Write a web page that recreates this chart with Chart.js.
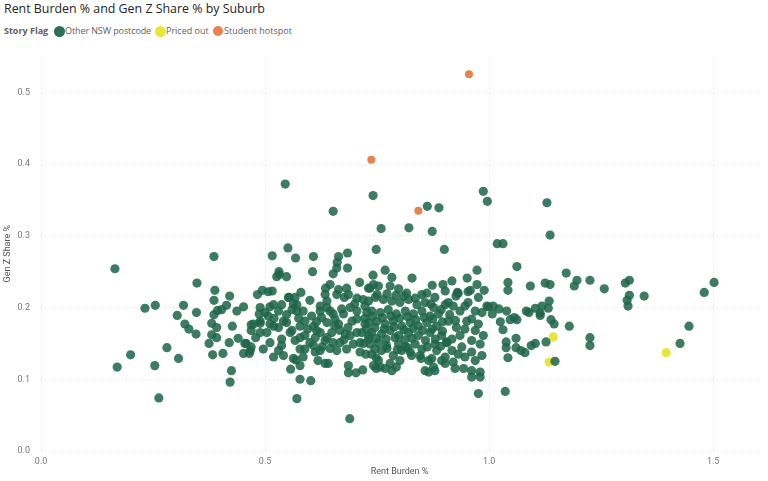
<!DOCTYPE html>
<html lang="en">
<head>
<meta charset="UTF-8">
<title>Rent Burden % and Gen Z Share % by Suburb</title>
<script src="https://cdn.jsdelivr.net/npm/chart.js@4.4.1/dist/chart.umd.min.js"></script>
<style>
  body { margin: 0; background: #fff; font-family: "Open Sans", "Noto Sans", sans-serif; }
  #wrap { position: relative; width: 768px; height: 481px; overflow: hidden; }
  .title { position: absolute; left: 4px; top: 0px; font-size: 12.4px; color: #252423; white-space: nowrap; }
  .legend { position: absolute; top: 24px; left: 4px; font-size: 9px; color: #605e5c; white-space: nowrap; height: 14px; }
  .legend span { position: absolute; top: 0; line-height: 14px; }
  .legend b { color: #605e5c; }
  .dot { display: inline-block; border-radius: 50%; position: absolute; }
  #chartBox { position: absolute; left: 0; top: 40px; width: 768px; height: 441px; }
</style>
</head>
<body>
<div id="wrap">
  <div class="title">Rent Burden % and Gen Z Share % by Suburb</div>
  <div class="legend">
    <span style="left:0"><b>Story Flag</b></span>
    <i class="dot" style="left:50px;top:1.5px;width:11px;height:11px;background:#2a6e54"></i>
    <span style="left:61px;letter-spacing:-0.1px">Other NSW postcode</span>
    <i class="dot" style="left:151px;top:1.5px;width:11px;height:11px;background:#e6e63c"></i>
    <span style="left:162px">Priced out</span>
    <i class="dot" style="left:209px;top:2px;width:10px;height:10px;background:#e8834f"></i>
    <span style="left:220px">Student hotspot</span>
  </div>
  <div id="chartBox"><canvas id="chart"></canvas></div>
</div>
<script>
// Other NSW postcode: rent burden (x) and Gen Z share (y)
const otherX = [
  1.129,1.136,1.018,1.031,1.062,1.042,1.042,1.092,1.125,1.136,1.172,1.196,1.190,1.225,1.257,1.304,1.313,1.313,1.308,1.310,
  1.346,1.502,1.480,1.446,1.426,1.147,1.225,1.225,1.179,1.134,1.132,1.114,1.114,1.118,1.103,1.083,1.089,1.138,1.145,1.009,
  1.022,1.007,1.025,1.047,1.056,1.062,1.031,1.060,1.038,1.038,1.060,1.071,1.080,1.094,1.103,1.127,1.042,1.036,
  0.987,0.996,0.741,0.862,0.888,0.652,0.545,0.759,0.821,0.873,0.748,0.900,0.973,0.768,0.828,0.741,0.783,0.951,0.917,0.897,
  0.873,0.973,0.989,0.958,0.929,0.926,
  0.386,0.165,0.516,0.551,0.348,0.388,0.386,0.421,0.414,0.403,0.394,0.386,0.381,0.392,0.381,0.392,0.375,0.383,0.406,0.420,
  0.427,0.437,0.452,0.440,0.455,0.469,0.465,0.452,0.425,0.422,0.263,0.170,0.200,0.254,0.281,0.307,0.232,0.255,0.304,0.318,
  0.321,0.330,0.346,0.347,0.483,0.494,0.507,0.516,0.532,0.526,0.548,0.496,0.519,0.489,0.487,0.489,0.469,0.469,0.479,0.554,
  0.568,0.608,0.606,0.664,0.684,0.661,0.660,0.684,0.652,0.531,0.580,0.635,0.645,0.711,0.731,0.458,0.467,0.557,0.569,0.578,
  0.578,0.602,0.571,0.618,0.634,0.641,0.660,0.686,0.686,0.703,0.718,0.748,0.748,0.689,
  0.552,0.567,0.660,0.682,0.686,0.705,0.719,0.638,0.507,0.519,0.537,0.530,0.571,0.585,0.604,0.623,0.638,0.652,0.671,0.690,
  0.705,0.723,0.474,0.489,0.511,0.530,0.548,0.560,0.578,0.589,0.608,0.623,0.638,0.649,0.664,0.679,0.694,0.705,0.723,0.731,
  0.537,0.567,0.600,0.634,0.667,0.697,0.530,0.541,0.578,0.612,0.627,0.682,0.712,0.585,
  0.902,0.931,0.953,0.953,0.976,0.734,0.753,0.779,0.798,0.816,0.850,0.861,0.879,0.902,0.920,0.935,0.946,0.969,0.984,0.961,
  0.976,0.946,0.969,0.987,0.980,0.961,0.939,0.931,0.946,0.969,0.961,0.980,0.943,0.920,0.902,0.883,0.865,0.857,0.876,0.902,
  0.731,0.746,0.764,0.783,0.801,0.820,0.839,0.857,0.876,0.738,0.757,0.775,0.793,0.813,0.831,0.850,0.868,0.887,0.731,0.749,
  0.768,0.786,0.805,0.824,0.842,0.861,0.883,0.909,0.927,0.738,0.760,0.779,0.798,0.820,0.842,0.868,0.894,0.917,0.734,0.753,
  0.771,0.798,0.813,0.835,0.850,0.879,0.738,0.760,0.786,0.805,0.827,0.872,0.753,0.801,0.846,
  0.757,0.779,0.793,0.783,0.742,0.865,0.879,0.924,0.961,0.980,0.984,0.935,0.976,1.039,0.995,
  0.740,0.762,0.781,0.800,0.818,0.836,0.855,0.874,0.896,0.745,0.766,0.788,0.810,0.830,0.852,0.873,0.896,0.748,0.770,0.790,
  0.812,0.828,0.858,0.880,0.905,0.745,0.772,0.795,0.818,0.862,0.892,0.750,0.772,0.792,0.810,0.835,0.870,0.893,0.912,0.925,
  0.727,0.723,0.726,0.720,0.725,
  0.563,0.634,0.664,0.677,0.511,0.500,0.541,0.489,0.519,0.571,0.589,0.623,0.645,0.656,0.675,0.705,0.504,0.556,0.578,0.615,
  0.638,0.667,0.690,0.716,0.511,0.537,0.589,0.608,0.623,0.652,0.712,0.731,0.563,0.600,0.615,0.595,0.575,0.655,0.685,0.700,
  0.626,0.548,0.520,0.560,0.612,0.645,0.676,
  0.742,0.909,0.998,0.950,0.906,0.917,0.894,0.961,0.824,0.848,0.768
];
const otherY = [
  0.346,0.301,0.289,0.289,0.257,0.235,0.224,0.230,0.234,0.232,0.248,0.238,0.230,0.238,0.226,0.234,0.238,0.217,0.210,0.202,
  0.216,0.235,0.221,0.174,0.150,0.125,0.158,0.147,0.174,0.209,0.199,0.192,0.189,0.202,0.199,0.195,0.193,0.183,0.177,0.202,
  0.198,0.191,0.180,0.183,0.186,0.183,0.169,0.157,0.152,0.144,0.144,0.140,0.137,0.147,0.150,0.152,0.130,0.083,
  0.362,0.348,0.356,0.341,0.339,0.334,0.372,0.310,0.311,0.306,0.281,0.281,0.252,0.252,0.241,0.245,0.242,0.241,0.237,0.232,
  0.231,0.232,0.224,0.224,0.221,0.216,
  0.271,0.254,0.272,0.283,0.234,0.224,0.210,0.216,0.203,0.197,0.196,0.190,0.178,0.172,0.162,0.158,0.150,0.134,0.136,0.151,
  0.174,0.195,0.201,0.157,0.150,0.145,0.136,0.136,0.112,0.096,0.074,0.117,0.134,0.119,0.144,0.129,0.199,0.203,0.189,0.203,
  0.177,0.170,0.163,0.193,0.218,0.224,0.222,0.223,0.246,0.243,0.243,0.142,0.131,0.200,0.191,0.178,0.176,0.168,0.158,0.214,
  0.269,0.271,0.250,0.271,0.276,0.263,0.255,0.255,0.247,0.250,0.221,0.227,0.232,0.235,0.227,0.150,0.140,0.114,0.127,0.119,
  0.100,0.098,0.073,0.126,0.122,0.122,0.140,0.119,0.109,0.109,0.113,0.130,0.115,0.045,
  0.214,0.214,0.218,0.227,0.218,0.213,0.211,0.209,0.188,0.204,0.204,0.195,0.204,0.195,0.188,0.195,0.200,0.191,0.198,0.200,
  0.195,0.202,0.177,0.165,0.177,0.172,0.179,0.168,0.174,0.161,0.174,0.165,0.179,0.165,0.177,0.163,0.181,0.165,0.177,0.161,
  0.156,0.154,0.151,0.154,0.151,0.149,0.140,0.133,0.142,0.138,0.145,0.142,0.138,0.131,
  0.223,0.220,0.222,0.207,0.214,0.227,0.230,0.230,0.226,0.220,0.218,0.220,0.214,0.204,0.202,0.195,0.202,0.195,0.193,0.184,
  0.177,0.170,0.168,0.161,0.149,0.154,0.145,0.135,0.131,0.126,0.112,0.110,0.115,0.124,0.131,0.140,0.126,0.112,0.117,0.122,
  0.209,0.214,0.211,0.209,0.207,0.211,0.204,0.207,0.200,0.195,0.193,0.197,0.191,0.195,0.191,0.195,0.188,0.191,0.179,0.181,
  0.177,0.181,0.174,0.179,0.174,0.179,0.174,0.181,0.172,0.165,0.163,0.168,0.161,0.165,0.161,0.165,0.161,0.156,0.149,0.151,
  0.147,0.149,0.145,0.149,0.142,0.149,0.135,0.140,0.133,0.140,0.133,0.129,0.126,0.126,0.133,
  0.117,0.122,0.117,0.112,0.119,0.110,0.112,0.115,0.103,0.103,0.133,0.161,0.080,0.195,0.202,
  0.187,0.186,0.188,0.185,0.187,0.183,0.186,0.184,0.180,0.172,0.170,0.173,0.169,0.171,0.168,0.170,0.167,0.157,0.156,0.158,
  0.155,0.157,0.154,0.156,0.152,0.142,0.143,0.141,0.144,0.145,0.146,0.218,0.219,0.217,0.216,0.213,0.205,0.197,0.190,0.182,
  0.193,0.185,0.170,0.150,0.135,
  0.205,0.218,0.225,0.214,0.201,0.193,0.181,0.181,0.174,0.195,0.181,0.202,0.195,0.184,0.191,0.184,0.165,0.165,0.158,0.168,
  0.158,0.168,0.161,0.165,0.151,0.147,0.142,0.147,0.140,0.151,0.151,0.156,0.129,0.210,0.180,0.170,0.185,0.175,0.172,0.205,
  0.186,0.190,0.185,0.197,0.158,0.143,0.155,
  0.232,0.207,0.201,0.181,0.151,0.140,0.126,0.138,0.138,0.129,0.115
];
// Priced out
const pricedX = [1.143, 1.134, 1.395];
const pricedY = [0.159, 0.124, 0.137];
// Student hotspot
const studentX = [0.955, 0.737, 0.842];
const studentY = [0.525, 0.406, 0.335];

const toPoints = (xs, ys) => xs.map((x, i) => ({ x: x, y: ys[i] }));

const tickFont = { family: "'Liberation Sans Narrow', 'Roboto', sans-serif", size: 9 };
const gridOpts = { color: '#d9d9d9', lineWidth: 1, drawTicks: false };

new Chart(document.getElementById('chart'), {
  type: 'scatter',
  data: {
    datasets: [{
      label: 'Other NSW postcode',
      data: toPoints(otherX, otherY),
      backgroundColor: 'rgba(30,101,73,0.86)',
      borderWidth: 0,
      pointRadius: 4.6
    }, {
      label: 'Priced out',
      data: toPoints(pricedX, pricedY),
      backgroundColor: '#e6e63c',
      borderWidth: 0,
      pointRadius: 4.6
    }, {
      label: 'Student hotspot',
      data: toPoints(studentX, studentY),
      backgroundColor: '#e8834f',
      borderWidth: 0,
      pointRadius: 4
    }]
  },
  options: {
    responsive: true,
    maintainAspectRatio: false,
    animation: false,
    layout: { padding: { left: 2, right: 10, top: 12, bottom: 4 } },
    plugins: { legend: { display: false }, tooltip: { enabled: false } },
    scales: {
      x: {
        type: 'linear',
        min: 0,
        max: 1.6,
        grid: gridOpts,
        border: { display: false, dash: [1, 3] },
        afterFit: scale => { scale.height = 26; },
        ticks: {
          stepSize: 0.5,
          includeBounds: false,
          padding: 5,
          color: '#777',
          font: tickFont,
          callback: v => v.toFixed(1)
        },
        title: { display: true, text: 'Rent Burden %', color: '#555', font: tickFont, padding: { top: 0, bottom: 0 } }
      },
      y: {
        type: 'linear',
        min: 0,
        max: 0.55,
        grid: gridOpts,
        border: { display: false, dash: [1, 3] },
        afterFit: scale => { scale.width = 39; },
        ticks: {
          stepSize: 0.1,
          includeBounds: false,
          padding: 11,
          color: '#777',
          font: tickFont,
          callback: v => v.toFixed(1)
        },
        title: { display: true, text: 'Gen Z Share %', color: '#555', font: tickFont, padding: { top: 0, bottom: 0 } }
      }
    }
  }
});
</script>
</body>
</html>
